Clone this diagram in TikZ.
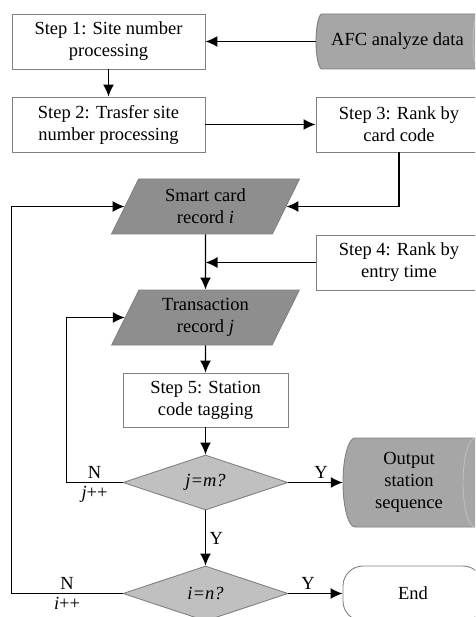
\documentclass[tikz,border=0pt]{standalone}
\usepackage{fontspec}
\setmainfont{Liberation Serif}
\usepackage{tikz}
\usetikzlibrary{calc,shapes.geometric,arrows.meta}
\definecolor{recgray}{HTML}{8E8E8E}
\definecolor{askgray}{HTML}{C0C0C0}
\definecolor{diskgray}{HTML}{A6A6A6}
\definecolor{rimgray}{HTML}{808080}
\newcommand\diskshape[5]{%
	\filldraw[fill=diskgray, draw=rimgray, line width=0.9pt] (#1+#5, #2) arc[start angle=270, end angle=90, x radius=#5, y radius=(#4-#2)/2] -- (#3, #4) arc[start angle=90, end angle=-90, x radius=#5, y radius=(#4-#2)/2] -- cycle;
	\draw[draw=black!25, line width=0.9pt] (#3, {(#2+#4)/2}) ellipse[x radius=#5, y radius=(#4-#2)/2];}
\tikzset{
	stepbox/.style={rectangle, draw=rimgray, fill=white, line width=0.9pt, inner sep=0pt, minimum height=55pt, align=center},
	record/.style={trapezium, trapezium left angle=65, trapezium right angle=115, trapezium stretches=true, fill=recgray, draw=rimgray, line width=0.9pt, inner sep=0pt, minimum width=188pt, minimum height=55pt, align=center},
	ask/.style={diamond, aspect=3, fill=askgray, draw=rimgray, line width=0.9pt, inner sep=0pt, minimum width=165pt, minimum height=55pt},
	arr/.style={line width=1.4pt, -{Latex[length=12pt, width=11pt]}},
}

\begin{document}
\begin{tikzpicture}[x=1pt, y=-1pt, font=\fontsize{18.5}{22}\selectfont]
			%%%%% START %%%%%
			\useasboundingbox (0, 0) rectangle (475, 617);
			\clip (0, 0) rectangle (475, 617);
			
			\diskshape{316}{14}{479}{69}{6}
			\diskshape{343}{438}{475}{527}{12}
			
			\node[minimum width=163pt, minimum height=55pt, inner sep=0pt] (afc) at (397.5, 41.5) {AFC analyze data};
			\node[minimum width=132pt, minimum height=89pt, inner sep=0pt, align=center] (out) at (409, 482.5) {Output\\station\\sequence};
			
			\node[stepbox, minimum width=193pt] (step1) at (108.5, 41.5) {Step 1: Site number\\processing};
			\node[stepbox, minimum width=193pt] (step2) at (108.5, 124.5) {Step 2: Trasfer site\\number processing};
			\node[stepbox, minimum width=166pt] (step3) at (399, 124.5) {Step 3: Rank by\\card code};
			\node[stepbox, minimum width=166pt] (step4) at (399, 262.5) {Step 4: Rank by\\entry time};
			
			\node[record] (smart) at (205.5, 206.5) {Smart card\\record \textit{i}};
			\node[record] (trans) at (205.5, 317.5) {Transaction\\record \textit{j}};
			
			\node[stepbox, minimum width=165pt, minimum height=54pt] (step5) at (205.5, 400) {Step 5: Station\\code tagging};
			
			\node[ask] (jsq) at (205.5, 482.5) {\textit{j=m?}};
			\node[ask] (isq) at (205.5, 593.5) {\textit{i=n?}};
			
			\node[draw=rimgray, fill=white, line width=0.9pt, rounded corners=20pt, minimum width=140pt, minimum height=55pt, inner sep=0pt] (end) at (413, 593.5) {End};
			
			\draw[arr] (afc.west) -- (step1.east);
			\draw[arr] (step1) -- (step2);
			\draw[arr] (step2) -- (step3);
			\draw[arr] (step3.south) |- (smart.east);
			\draw[arr] (step4.west) -- (step4.west -| smart.center);
			\draw[arr] (smart) -- (trans);
			\draw[arr] (trans) -- (step5);
			\draw[arr] (step5) -- (jsq);
			\draw[arr] (jsq) -- node[right] {Y} (isq);
			\draw[arr] (jsq.east) -- node[above, pos=0.6] {Y} (out.west);
			\draw[arr] (isq.east) -- node[above, pos=0.36] {Y} (end.west);
			
			\draw[arr] (jsq.west) -- node[above] {N} node[below] {\textit{j}++} ++(-56, 0) |- (trans.west);
			\draw[arr] (isq.west) -- node[above] {N} node[below] {\textit{i}++} ++(-111, 0) |- (smart.west);
			
			%%%%% END %%%%%
\end{tikzpicture}
\end{document}
